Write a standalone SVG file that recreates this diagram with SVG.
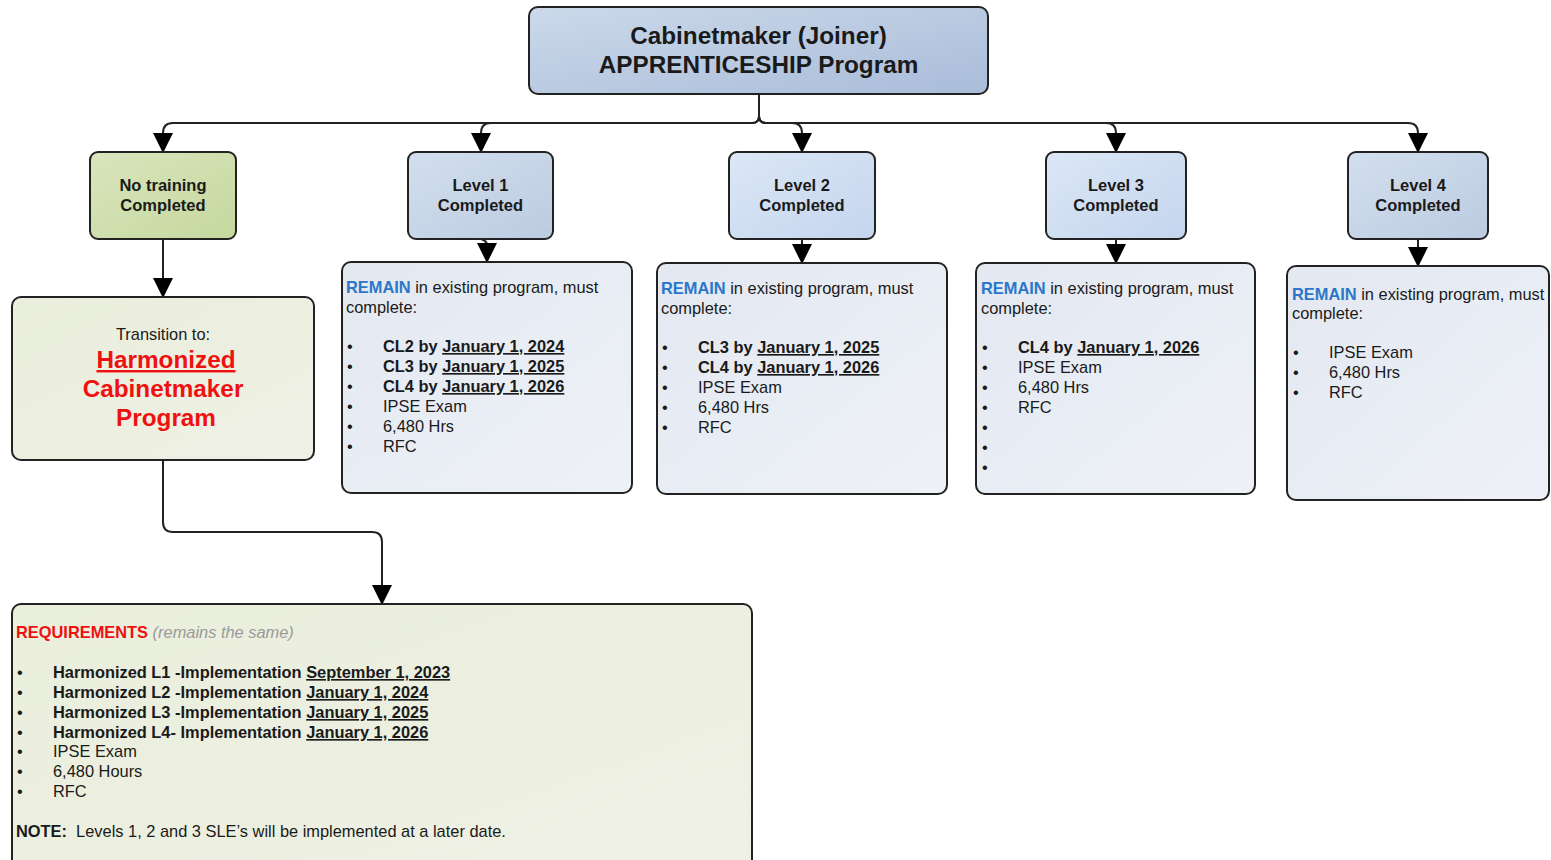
<svg xmlns="http://www.w3.org/2000/svg" width="1551" height="860" viewBox="0 0 1551 860">
<style>
text{font-family:"Liberation Sans",Arial,sans-serif;fill:#1a1a1a}
.box{stroke:#222;stroke-width:2}
.h{font-size:24.3px;font-weight:bold;text-anchor:middle}
.n{font-size:16.5px;font-weight:bold;text-anchor:middle}
.t{font-size:16.4px}
.b{font-weight:bold}
.u{text-decoration:underline}
.blue{fill:#2b77c8;font-weight:bold}
.red{fill:#f01010;font-weight:bold}
.gray{fill:#9a9a9a;font-style:italic}
.conn{fill:none;stroke:#222;stroke-width:2}
</style>
<defs>
<linearGradient id="gTop" x1="0" y1="0" x2="1" y2="1"><stop offset="0" stop-color="#cbd9ea"/><stop offset="1" stop-color="#a9bcd9"/></linearGradient>
<linearGradient id="gLvl" x1="0" y1="0" x2="1" y2="1"><stop offset="0" stop-color="#d3dfee"/><stop offset="1" stop-color="#bccbe1"/></linearGradient>
<linearGradient id="gLvlL" x1="0" y1="0" x2="1" y2="1"><stop offset="0" stop-color="#dce7f6"/><stop offset="1" stop-color="#c4d5ee"/></linearGradient>
<linearGradient id="gGreen" x1="0" y1="0" x2="1" y2="1"><stop offset="0" stop-color="#d9e5bd"/><stop offset="1" stop-color="#c5d89e"/></linearGradient>
<linearGradient id="gBody" x1="0" y1="0" x2="1" y2="1"><stop offset="0" stop-color="#e3e8f1"/><stop offset="1" stop-color="#eef1f7"/></linearGradient>
<linearGradient id="gLG" x1="0" y1="0" x2="1" y2="1"><stop offset="0" stop-color="#eaeedc"/><stop offset="1" stop-color="#eef1e4"/></linearGradient>
<marker id="arr" markerUnits="userSpaceOnUse" markerWidth="20" markerHeight="20" viewBox="0 0 18 18" refX="17" refY="9" orient="auto">
<path d="M0,0 L18,9 L0,18 Z" fill="#000"/>
</marker>
</defs>

<g id="connectors">
<path class="conn" d="M759,94 V116 Q759,123 752,123 H173 Q163,123 163,133 V152" marker-end="url(#arr)"/>
<path class="conn" d="M759,116 Q759,123 752,123 H491 Q481,123 481,133 V152" marker-end="url(#arr)"/>
<path class="conn" d="M759,116 Q759,123 766,123 H792 Q802,123 802,133 V152" marker-end="url(#arr)"/>
<path class="conn" d="M759,116 Q759,123 766,123 H1106 Q1116,123 1116,133 V152" marker-end="url(#arr)"/>
<path class="conn" d="M759,116 Q759,123 766,123 H1408 Q1418,123 1418,133 V152" marker-end="url(#arr)"/>
<path class="conn" d="M163,239 V297" marker-end="url(#arr)"/>
<path class="conn" d="M481,239 Q487,241 487,245 V262" marker-end="url(#arr)"/>
<path class="conn" d="M802,239 V263" marker-end="url(#arr)"/>
<path class="conn" d="M1116,239 V263" marker-end="url(#arr)"/>
<path class="conn" d="M1418,239 V266" marker-end="url(#arr)"/>
<path class="conn" d="M163,460 V522 Q163,532 173,532 H372 Q382,532 382,542 V604" marker-end="url(#arr)"/>
</g>

<g id="top">
<rect class="box" x="529" y="7" width="459" height="87" rx="9" fill="url(#gTop)"/>
<text class="h" x="758.5" y="44">Cabinetmaker (Joiner)</text>
<text class="h" x="758.5" y="73">APPRENTICESHIP Program</text>
</g>

<g id="no-training">
<rect class="box" x="90" y="152" width="146" height="87" rx="8" fill="url(#gGreen)"/>
<text class="n" x="163" y="191">No training</text>
<text class="n" x="163" y="211">Completed</text>
</g>

<g id="level1">
<rect class="box" x="408" y="152" width="145" height="87" rx="8" fill="url(#gLvl)"/>
<text class="n" x="480.5" y="191">Level 1</text>
<text class="n" x="480.5" y="211">Completed</text>
</g>

<g id="level2">
<rect class="box" x="729" y="152" width="146" height="87" rx="8" fill="url(#gLvlL)"/>
<text class="n" x="802" y="191">Level 2</text>
<text class="n" x="802" y="211">Completed</text>
</g>

<g id="level3">
<rect class="box" x="1046" y="152" width="140" height="87" rx="8" fill="url(#gLvlL)"/>
<text class="n" x="1116" y="191">Level 3</text>
<text class="n" x="1116" y="211">Completed</text>
</g>

<g id="level4">
<rect class="box" x="1348" y="152" width="140" height="87" rx="8" fill="url(#gLvl)"/>
<text class="n" x="1418" y="191">Level 4</text>
<text class="n" x="1418" y="211">Completed</text>
</g>

<g id="transition">
<rect class="box" x="12" y="297" width="302" height="163" rx="9" fill="url(#gLG)"/>
<text class="t" x="163" y="340" text-anchor="middle">Transition to:</text>
<text x="166" y="368" text-anchor="middle" style="font-size:24.3px;font-weight:bold;fill:#f01010;text-decoration:underline">Harmonized</text>
<text x="163" y="397" text-anchor="middle" style="font-size:24.3px;font-weight:bold;fill:#f01010">Cabinetmaker</text>
<text x="166" y="426" text-anchor="middle" style="font-size:24.3px;font-weight:bold;fill:#f01010">Program</text>
</g>

<g id="level1-body">
<rect class="box" x="342" y="262" width="290" height="231" rx="9" fill="url(#gBody)"/>
<text class="t" x="346" y="293"><tspan class="blue">REMAIN</tspan> in existing program, must</text>
<text class="t" x="346" y="313">complete:</text>
<g class="t">
<text x="347" y="352">•</text><text x="383" y="352" class="b">CL2 by <tspan class="u">January 1, 2024</tspan></text>
<text x="347" y="372">•</text><text x="383" y="372" class="b">CL3 by <tspan class="u">January 1, 2025</tspan></text>
<text x="347" y="392">•</text><text x="383" y="392" class="b">CL4 by <tspan class="u">January 1, 2026</tspan></text>
<text x="347" y="412">•</text><text x="383" y="412">IPSE Exam</text>
<text x="347" y="432">•</text><text x="383" y="432">6,480 Hrs</text>
<text x="347" y="452">•</text><text x="383" y="452">RFC</text>
</g>
</g>

<g id="level2-body">
<rect class="box" x="657" y="263" width="290" height="231" rx="9" fill="url(#gBody)"/>
<text class="t" x="661" y="294"><tspan class="blue">REMAIN</tspan> in existing program, must</text>
<text class="t" x="661" y="314">complete:</text>
<g class="t">
<text x="662" y="353">•</text><text x="698" y="353" class="b">CL3 by <tspan class="u">January 1, 2025</tspan></text>
<text x="662" y="373">•</text><text x="698" y="373" class="b">CL4 by <tspan class="u">January 1, 2026</tspan></text>
<text x="662" y="393">•</text><text x="698" y="393">IPSE Exam</text>
<text x="662" y="413">•</text><text x="698" y="413">6,480 Hrs</text>
<text x="662" y="433">•</text><text x="698" y="433">RFC</text>
</g>
</g>

<g id="level3-body">
<rect class="box" x="976" y="263" width="279" height="231" rx="9" fill="url(#gBody)"/>
<text class="t" x="981" y="294"><tspan class="blue">REMAIN</tspan> in existing program, must</text>
<text class="t" x="981" y="314">complete:</text>
<g class="t">
<text x="982" y="353">•</text><text x="1018" y="353" class="b">CL4 by <tspan class="u">January 1, 2026</tspan></text>
<text x="982" y="373">•</text><text x="1018" y="373">IPSE Exam</text>
<text x="982" y="393">•</text><text x="1018" y="393">6,480 Hrs</text>
<text x="982" y="413">•</text><text x="1018" y="413">RFC</text>
<text x="982" y="433">•</text>
<text x="982" y="453">•</text>
<text x="982" y="473">•</text>
</g>
</g>

<g id="level4-body">
<rect class="box" x="1287" y="266" width="262" height="234" rx="9" fill="url(#gBody)"/>
<text class="t" x="1292" y="300"><tspan class="blue">REMAIN</tspan> in existing program, must</text>
<text class="t" x="1292" y="319">complete:</text>
<g class="t">
<text x="1293" y="358">•</text><text x="1329" y="358">IPSE Exam</text>
<text x="1293" y="378">•</text><text x="1329" y="378">6,480 Hrs</text>
<text x="1293" y="398">•</text><text x="1329" y="398">RFC</text>
</g>
</g>

<g id="requirements">
<rect class="box" x="12" y="604" width="740" height="264" rx="9" fill="url(#gLG)"/>
<text class="t" x="16" y="638"><tspan class="red">REQUIREMENTS</tspan> <tspan class="gray">(remains the same)</tspan></text>
<g class="t">
<text x="17" y="678">•</text><text x="53" y="678" class="b">Harmonized L1 -Implementation <tspan class="u">September 1, 2023</tspan></text>
<text x="17" y="698">•</text><text x="53" y="698" class="b">Harmonized L2 -Implementation <tspan class="u">January 1, 2024</tspan></text>
<text x="17" y="718">•</text><text x="53" y="718" class="b">Harmonized L3 -Implementation <tspan class="u">January 1, 2025</tspan></text>
<text x="17" y="738">•</text><text x="53" y="738" class="b">Harmonized L4- Implementation <tspan class="u">January 1, 2026</tspan></text>
<text x="17" y="757">•</text><text x="53" y="757">IPSE Exam</text>
<text x="17" y="777">•</text><text x="53" y="777">6,480 Hours</text>
<text x="17" y="797">•</text><text x="53" y="797">RFC</text>
</g>
<text class="t" x="16" y="837" xml:space="preserve"><tspan class="b">NOTE:</tspan>  Levels 1, 2 and 3 SLE’s will be implemented at a later date.</text>
</g>
</svg>
